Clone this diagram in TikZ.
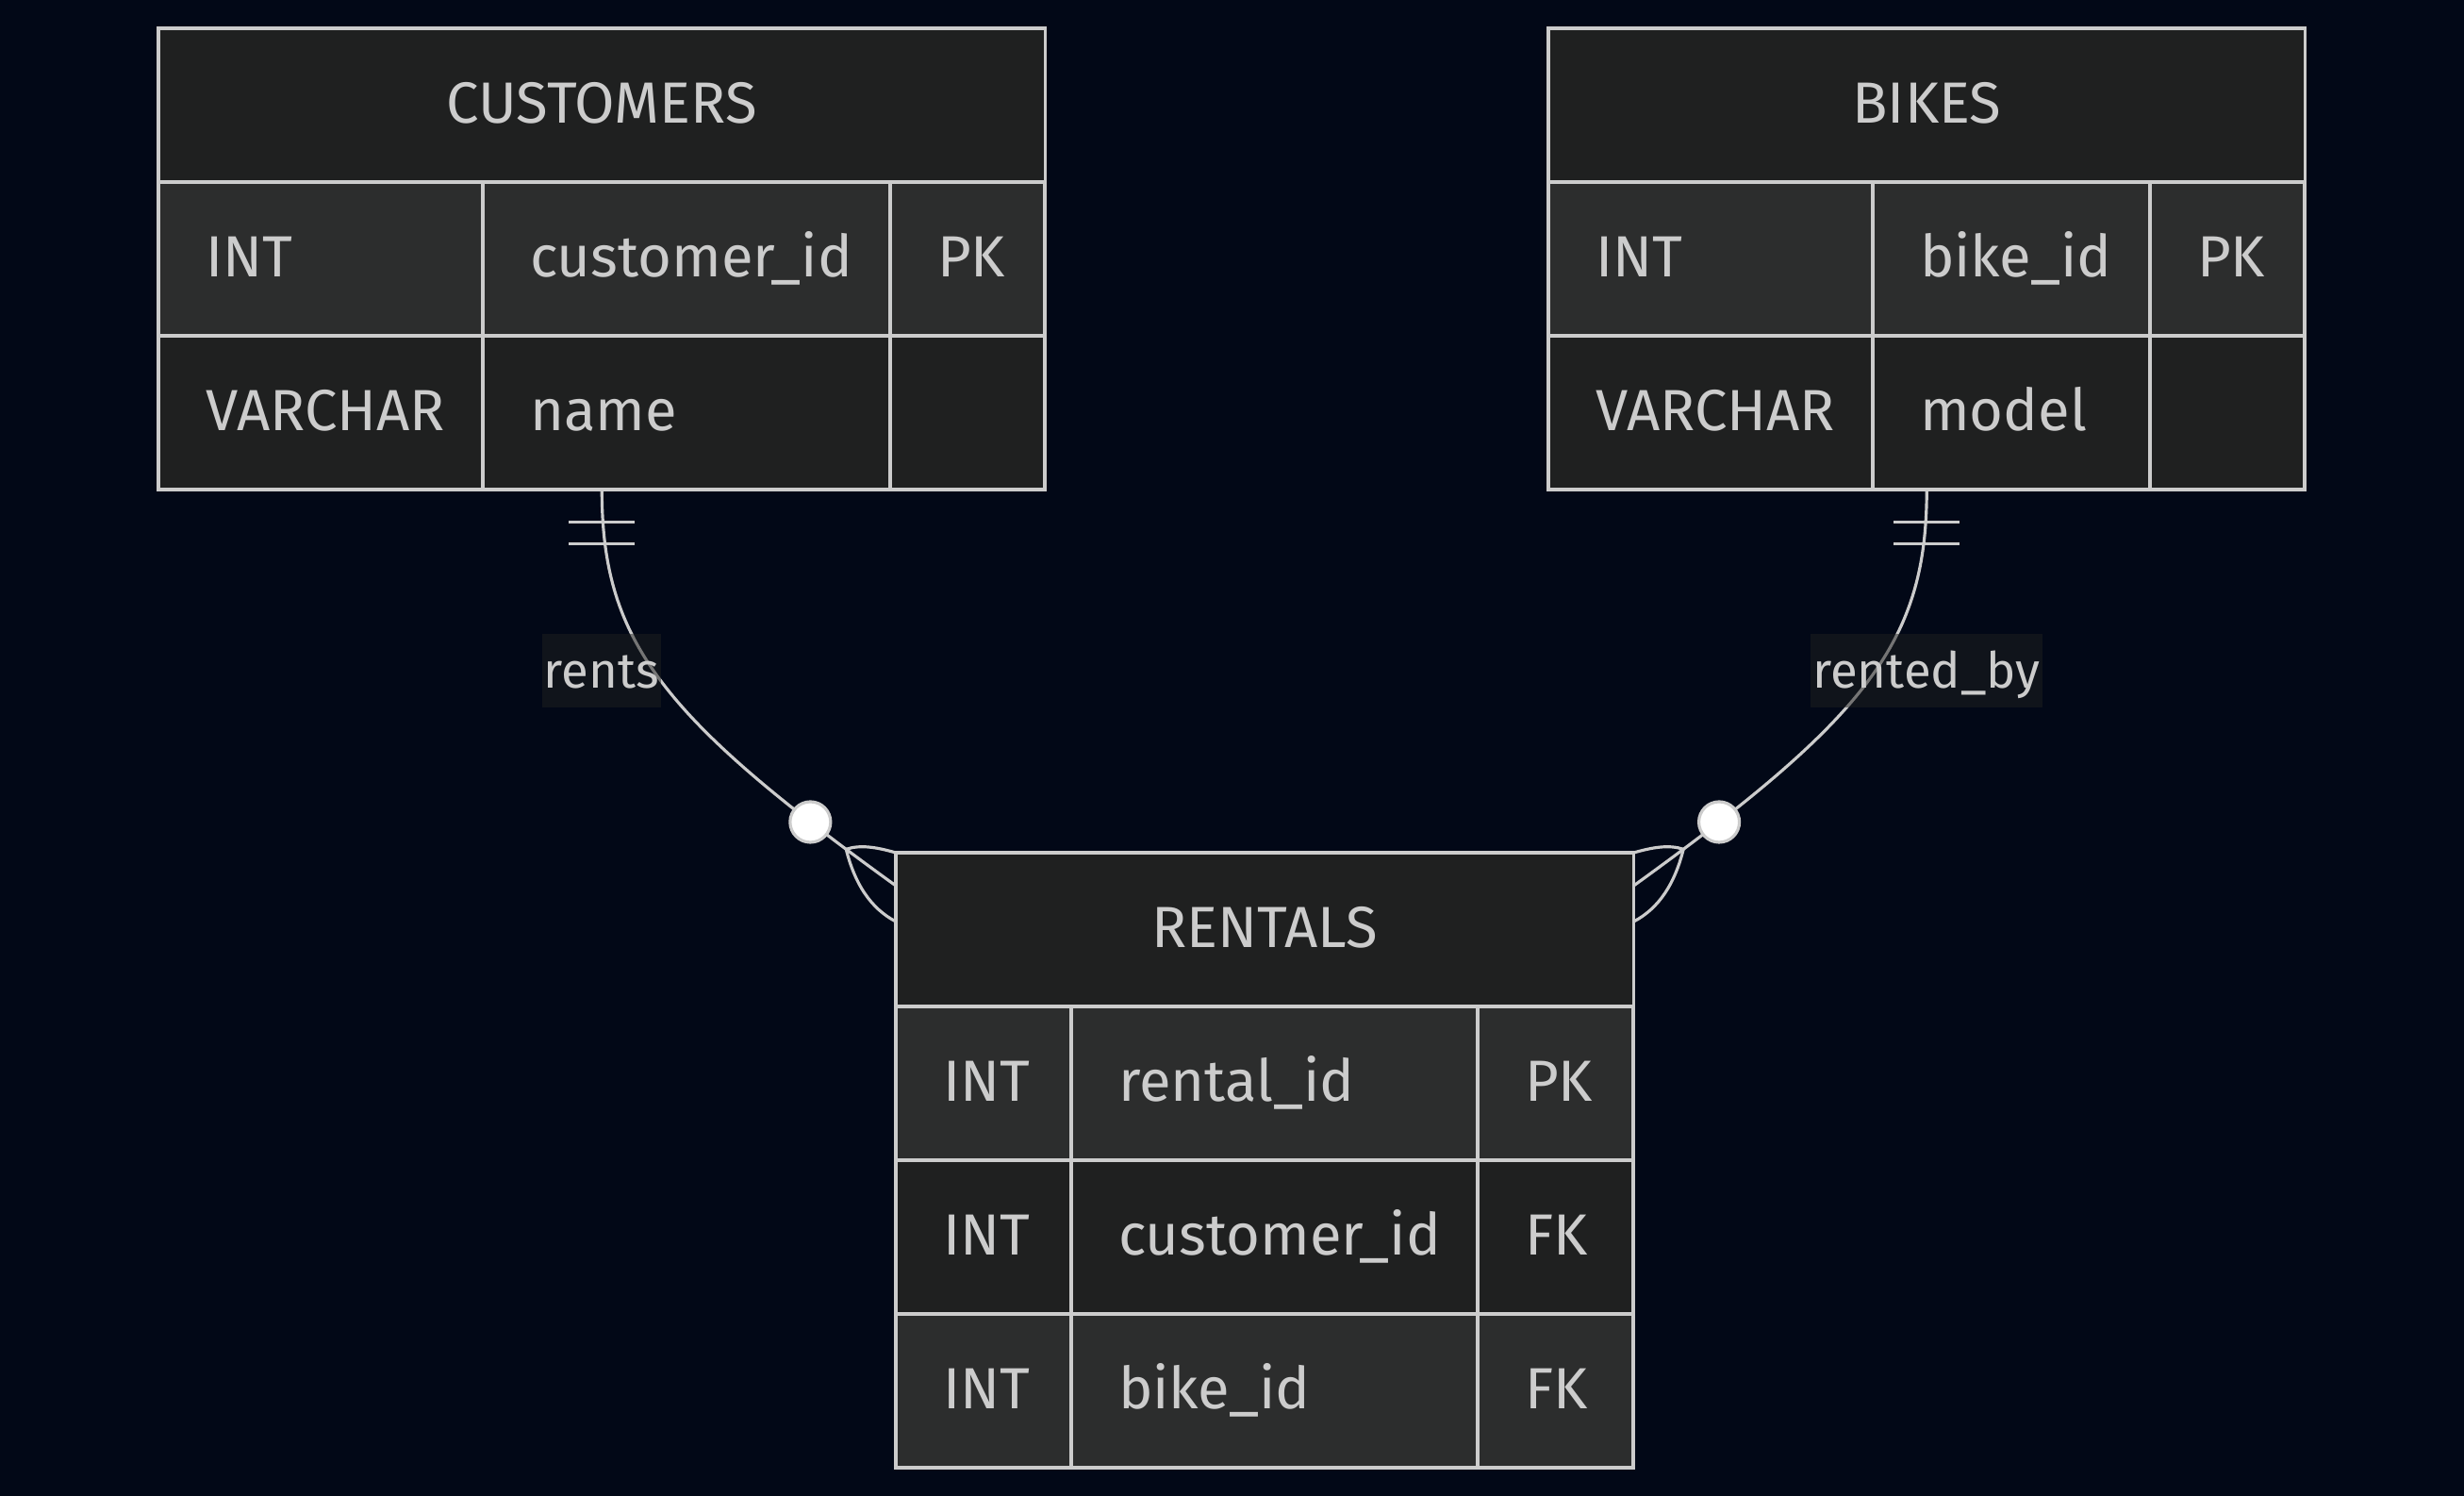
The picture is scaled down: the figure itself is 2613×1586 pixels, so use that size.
\documentclass[tikz,border=0pt]{standalone}
\usepackage{fontspec}
\setmainfont{Fira Sans}
\usetikzlibrary{calc}
\definecolor{bgcol}{RGB}{2,8,23}
\definecolor{linecol}{RGB}{204,204,204}
\definecolor{headcol}{RGB}{31,32,32}
\definecolor{oddcol}{RGB}{44,45,45}
\definecolor{txtcol}{RGB}{204,204,204}

\begin{document}
\begin{tikzpicture}[x=0.01cm, y=-0.01cm,
    erfont/.style={font=\fontsize{17.5}{21}\selectfont, text=txtcol},
    head/.style={erfont, draw=linecol, fill=headcol, line width=1.1pt,
        anchor=north west, outer sep=0pt, minimum height=1.63cm,
        text height=0.43cm, text depth=0.06cm},
    cell/.style={erfont, draw=linecol, line width=1.1pt, anchor=north west,
        outer sep=0pt, minimum height=1.63cm, inner xsep=0.5cm, align=left,
        text height=0.43cm, text depth=0.06cm},
    oddrow/.style={cell, fill=oddcol},
    evenrow/.style={cell, fill=headcol},
    rel/.style={draw=linecol, line width=0.9pt},
    zero/.style={circle, draw=linecol, fill=white, line width=0.9pt,
        minimum size=0.43cm, inner sep=0pt},
    lbl/.style={font=\fontsize{15}{18}\selectfont, text=txtcol, fill=headcol,
        fill opacity=0.5, text opacity=1, inner xsep=0.02cm,
        minimum height=0.78cm, text height=0.37cm, text depth=0cm}
]
    \fill[bgcol] (0,0) rectangle (2613,1586);

    % CUSTOMERS
    \node[head, minimum width=9.4cm] (cust) at (168,30) {CUSTOMERS};
    \node[oddrow, text width=2.44cm] (cust-t1) at (168,193) {INT};
    \node[oddrow, text width=3.32cm] (cust-n1) at (512,193) {customer\_id};
    \node[oddrow, text width=0.64cm] (cust-k1) at (944,193) {PK};
    \node[evenrow, text width=2.44cm] (cust-t2) at (168,356) {VARCHAR};
    \node[evenrow, text width=3.32cm] (cust-n2) at (512,356) {name};
    \node[evenrow, text width=0.64cm] (cust-k2) at (944,356) {};

    % BIKES
    \node[head, minimum width=8.02cm] (bike) at (1642,30) {BIKES};
    \node[oddrow, text width=2.44cm] (bike-t1) at (1642,193) {INT};
    \node[oddrow, text width=1.94cm] (bike-n1) at (1986,193) {bike\_id};
    \node[oddrow, text width=0.64cm] (bike-k1) at (2280,193) {PK};
    \node[evenrow, text width=2.44cm] (bike-t2) at (1642,356) {VARCHAR};
    \node[evenrow, text width=1.94cm] (bike-n2) at (1986,356) {model};
    \node[evenrow, text width=0.64cm] (bike-k2) at (2280,356) {};

    % RENTALS
    \node[head, minimum width=7.82cm] (rent) at (950,904) {RENTALS};
    \node[oddrow, text width=0.86cm] (rent-t1) at (950,1067) {INT};
    \node[oddrow, text width=3.31cm] (rent-n1) at (1136,1067) {rental\_id};
    \node[oddrow, text width=0.65cm] (rent-k1) at (1567,1067) {PK};
    \node[evenrow, text width=0.86cm] (rent-t2) at (950,1230) {INT};
    \node[evenrow, text width=3.31cm] (rent-n2) at (1136,1230) {customer\_id};
    \node[evenrow, text width=0.65cm] (rent-k2) at (1567,1230) {FK};
    \node[oddrow, text width=0.86cm] (rent-t3) at (950,1393) {INT};
    \node[oddrow, text width=3.31cm] (rent-n3) at (1136,1393) {bike\_id};
    \node[oddrow, text width=0.65cm] (rent-k3) at (1567,1393) {FK};

    % relations
    \coordinate (cust-out) at (cust.center |- cust-t2.south);
    \coordinate (bike-out) at (bike.center |- bike-t2.south);
    \coordinate (rent-inl) at ($(rent.north west)+(0,35)$);
    \coordinate (rent-inr) at ($(rent.north east)+(0,35)$);

    \draw[rel] (cust-out) .. controls +(0,161) and +(-248,-179) .. (rent-inl)
        node[pos=0.865, zero] (o1) {} coordinate[pos=0.925] (cf1);
    \draw[rel] (bike-out) .. controls +(0,161) and +(248,-179) .. (rent-inr)
        node[pos=0.865, zero] (o2) {} coordinate[pos=0.925] (cf2);

    \node[lbl] (l1) at (638,711) {rents};
    \node[lbl] (l2) at (2043,711) {rented\_by};

    % crow's feet
    \draw[rel] (cf1) .. controls +(15,-5) and +(-21,-6) .. (rent.north west);
    \draw[rel] (cf1) .. controls +(9,36) and +(-27,-14) .. ($(rent.north west)+(0,73)$);
    \draw[rel] (cf2) .. controls +(-15,-5) and +(21,-6) .. (rent.north east);
    \draw[rel] (cf2) .. controls +(-9,36) and +(27,-14) .. ($(rent.north east)+(0,73)$);

    % one-only bars
    \draw[rel] ([shift={(-35,34)}]cust-out) -- +(70,0)
        ([shift={(-35,57)}]cust-out) -- +(70,0);
    \draw[rel] ([shift={(-35,34)}]bike-out) -- +(70,0)
        ([shift={(-35,57)}]bike-out) -- +(70,0);
\end{tikzpicture}
\end{document}
